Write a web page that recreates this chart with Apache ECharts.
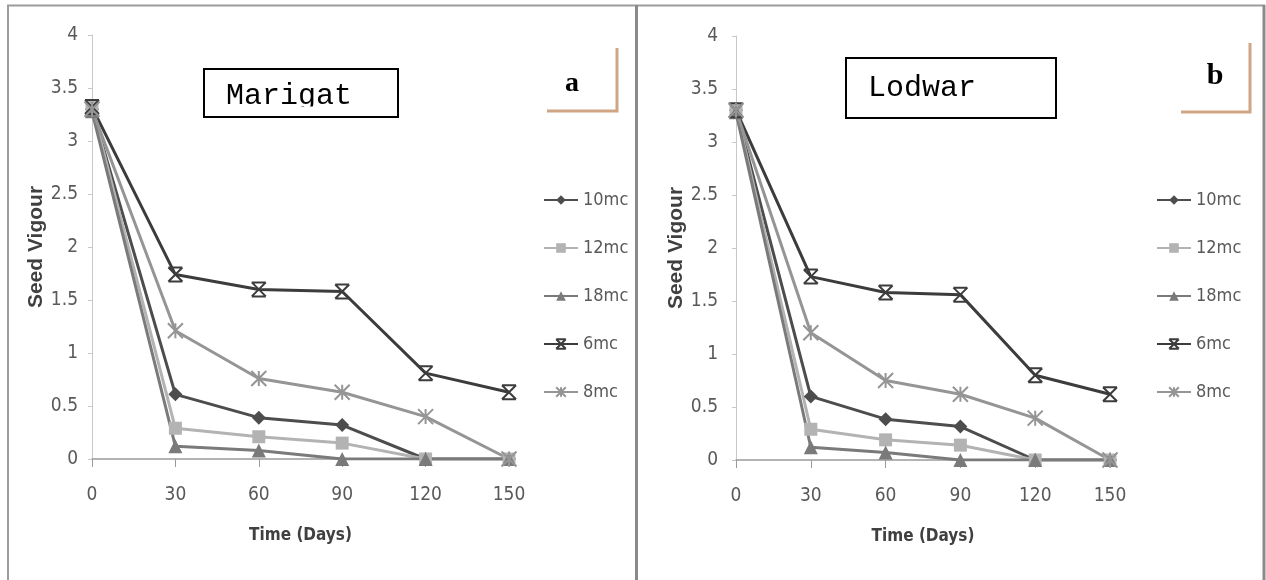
<!DOCTYPE html>
<html>
<head>
<meta charset="utf-8">
<title>Seed Vigour – Marigat and Lodwar</title>
<script src="https://cdn.jsdelivr.net/npm/echarts@6/dist/echarts.min.js"></script>
<style>
  html, body { margin: 0; padding: 0; background: #ffffff; }
  #chart { width: 1266px; height: 580px; }
</style>
</head>
<body>
<div id="chart"></div>
<script>
// Storage time (days) on the x axis
const days = [0, 30, 60, 90, 120, 150];
const yTicks = ['0', '0.5', '1', '1.5', '2', '2.5', '3', '3.5', '4'];
const moistureNames = ['10mc', '12mc', '18mc', '6mc', '8mc'];

// Seed vigour, Marigat (panel a)
const marigat10mc = [3.3, 0.61, 0.39, 0.32, 0, 0];
const marigat12mc = [3.32, 0.29, 0.21, 0.15, 0, 0];
const marigat18mc = [3.28, 0.12, 0.08, 0, 0, 0];
const marigat6mc  = [3.32, 1.74, 1.6, 1.58, 0.81, 0.63];
const marigat8mc  = [3.3, 1.21, 0.76, 0.63, 0.4, 0];

// Seed vigour, Lodwar (panel b)
const lodwar10mc = [3.3, 0.6, 0.385, 0.315, 0, 0];
const lodwar12mc = [3.3, 0.29, 0.19, 0.14, 0, 0];
const lodwar18mc = [3.28, 0.12, 0.07, 0, 0, 0];
const lodwar6mc  = [3.3, 1.73, 1.58, 1.56, 0.8, 0.62];
const lodwar8mc  = [3.3, 1.2, 0.75, 0.62, 0.395, 0];

const NARROW = "'DejaVu Sans Condensed', 'Liberation Sans', sans-serif";

// Grey-scale styles per moisture content
const styles = {
  '10mc': { color: '#4d4d4d', symbol: 'diamond', size: 14, fill: '#4d4d4d' },
  '12mc': { color: '#b3b3b3', symbol: 'rect', size: 13, fill: '#b3b3b3' },
  '18mc': { color: '#7a7a7a', symbol: 'triangle', size: 14, fill: '#7a7a7a' },
  '6mc':  { color: '#3c3c3c', symbol: 'path://M0,0 L10,0 M0,10 L10,10 M0,0 L10,10 M10,0 L0,10', size: 14, fill: '#ffffff', stroke: true },
  '8mc':  { color: '#959595', symbol: 'path://M5,0 L5,10 M0,0 L10,10 M10,0 L0,10', size: 15, fill: '#ffffff', stroke: true }
};

function makeSeries(name, values, idx) {
  const s = styles[name];
  return {
    name: name,
    type: 'line',
    xAxisIndex: idx,
    yAxisIndex: idx,
    data: days.map((d, i) => [d, values[i]]),
    symbol: s.symbol,
    symbolSize: s.size,
    showAllSymbol: true,
    lineStyle: { color: s.color, width: 3 },
    itemStyle: s.stroke
      ? { color: s.fill, borderColor: s.color, borderWidth: 2 }
      : { color: s.fill, borderColor: s.color, borderWidth: 0 },
    emphasis: { disabled: true }
  };
}

function makeX(idx) {
  return {
    gridIndex: idx, type: 'value', min: 0, max: 150, interval: 30,
    axisLine: { show: true, lineStyle: { color: '#9a9a9a', width: 1.5 } },
    axisTick: { show: true, length: 8, lineStyle: { color: '#9a9a9a', width: 1 } },
    splitLine: { show: false },
    axisLabel: { margin: 27, fontSize: 19, color: '#595959', fontFamily: NARROW },
    name: 'Time (Days)', nameLocation: 'middle', nameGap: 68,
    nameTextStyle: { fontSize: 17, fontWeight: 'bold', color: '#404040', fontFamily: NARROW }
  };
}

function makeY(idx, labelMargin, titleGap) {
  return {
    gridIndex: idx, type: 'value', min: 0, max: 4, interval: 0.5,
    axisLine: { show: true, lineStyle: { color: '#c8c8c8', width: 1 } },
    axisTick: { show: true, length: 4, lineStyle: { color: '#c8c8c8' } },
    splitLine: { show: false },
    axisLabel: {
      margin: labelMargin, fontSize: 19, color: '#595959', fontFamily: NARROW,
      formatter: (v) => yTicks[Math.round(v * 2)]
    },
    name: 'Seed Vigour', nameLocation: 'middle', nameGap: titleGap, nameRotate: 90,
    nameTextStyle: { fontSize: 21, fontWeight: 'bold', color: '#404040', fontFamily: "'Liberation Sans', sans-serif" }
  };
}

function makeLegend(left) {
  return {
    orient: 'vertical', left: left, top: 190, padding: 0,
    itemWidth: 34, itemHeight: 12, itemGap: 28,
    selectedMode: false,
    data: moistureNames,
    textStyle: { fontSize: 18, lineHeight: 20, color: '#595959', fontFamily: NARROW }
  };
}

function titleBox(x, y, w, h, label, textY) {
  return [
    { type: 'rect', shape: { x: x, y: y, width: w, height: h },
      style: { fill: '#ffffff', stroke: '#000000', lineWidth: 2 }, z: 10 },
    { type: 'text', x: x + 22, y: textY, z: 11,
      style: { text: label, font: "30px 'Liberation Mono', 'DejaVu Sans Mono', monospace",
               fill: '#000000', verticalAlign: 'middle', align: 'left' } }
  ];
}

const graphics = [
  // outer frame and panel divider
  { type: 'line', shape: { x1: 7, y1: 5.5, x2: 1265, y2: 5.5 }, style: { stroke: '#9c9c9c', lineWidth: 2 } },
  { type: 'line', shape: { x1: 8, y1: 5, x2: 8, y2: 580 }, style: { stroke: '#9c9c9c', lineWidth: 2 } },
  { type: 'line', shape: { x1: 636.5, y1: 5, x2: 636.5, y2: 580 }, style: { stroke: '#8a8a8a', lineWidth: 3 } },
  { type: 'line', shape: { x1: 1264, y1: 5, x2: 1264, y2: 580 }, style: { stroke: '#8a8a8a', lineWidth: 3 } },

  ...titleBox(204, 69, 194, 48, 'Marigat', 96),
  // lower edge of the Marigat caption sits under the box frame
  { type: 'rect', shape: { x: 206, y: 106.5, width: 190, height: 9.5 }, style: { fill: '#ffffff' }, z: 12 },
  ...titleBox(846, 58, 210, 60, 'Lodwar', 88),

  // panel letters with corner brackets
  { type: 'text', x: 572, y: 84, z: 11,
    style: { text: 'a', font: "bold 28px 'Liberation Serif', serif", fill: '#000', align: 'center', verticalAlign: 'middle' } },
  { type: 'polyline', shape: { points: [[547, 111], [617, 111], [617, 48]] },
    style: { stroke: '#cfa586', lineWidth: 3, fill: null } },
  { type: 'text', x: 1215, y: 76, z: 11,
    style: { text: 'b', font: "bold 30px 'Liberation Serif', serif", fill: '#000', align: 'center', verticalAlign: 'middle' } },
  { type: 'polyline', shape: { points: [[1181, 112], [1250, 112], [1250, 43]] },
    style: { stroke: '#cfa586', lineWidth: 3, fill: null } }
];

const chart = echarts.init(document.getElementById('chart'), null, { renderer: 'canvas' });
chart.setOption({
  animation: false,
  backgroundColor: '#ffffff',
  grid: [
    { left: 92, top: 35, width: 417, height: 424 },
    { left: 736, top: 36, width: 374, height: 424 }
  ],
  xAxis: [makeX(0), makeX(1)],
  yAxis: [makeY(0, 14, 34), makeY(1, 18, 44)],
  legend: [makeLegend(543), makeLegend(1156)],
  graphic: graphics,
  series: [
    makeSeries('10mc', marigat10mc, 0),
    makeSeries('12mc', marigat12mc, 0),
    makeSeries('18mc', marigat18mc, 0),
    makeSeries('6mc', marigat6mc, 0),
    makeSeries('8mc', marigat8mc, 0),
    makeSeries('10mc', lodwar10mc, 1),
    makeSeries('12mc', lodwar12mc, 1),
    makeSeries('18mc', lodwar18mc, 1),
    makeSeries('6mc', lodwar6mc, 1),
    makeSeries('8mc', lodwar8mc, 1)
  ]
});
</script>
</body>
</html>
